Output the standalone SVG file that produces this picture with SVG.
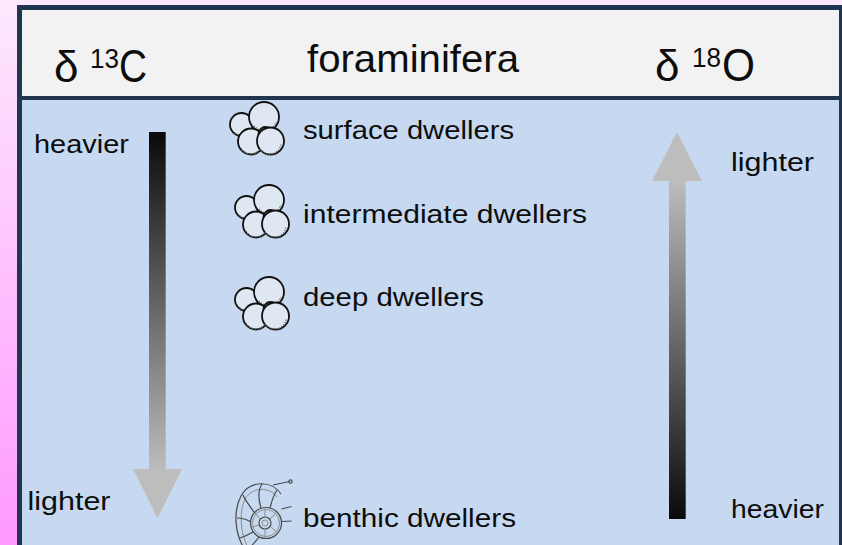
<svg xmlns="http://www.w3.org/2000/svg" xmlns:xlink="http://www.w3.org/1999/xlink" width="842" height="545" viewBox="0 0 842 545">
  <style>
    text { font-family: "Liberation Sans", Arial, sans-serif; fill: #0d0d0d; }
    .hdr { font-size: 39px; }
    .sym { font-size: 44px; }
    .sup { font-size: 27px; }
    .iso { font-size: 46px; }
    .lbl { font-size: 26.5px; }
    .frame { fill: #1f3550; }
    .shell { fill: #dfe7f2; stroke: #111; stroke-width: 1.8; }
    .shade { fill: none; stroke: #6e6e6e; stroke-width: 1.4; stroke-dasharray: 1.2 1.4; }
    .benth { fill: none; stroke: #4a4a4a; stroke-width: 1.2; }
    .benth2 { fill: none; stroke: #8d8d8d; stroke-width: 1; }
  </style>
  <defs>
    <linearGradient id="pinkBg" x1="0" y1="0" x2="0" y2="1">
      <stop offset="0" stop-color="#fde9fd"/>
      <stop offset="1" stop-color="#ff99ff"/>
    </linearGradient>
    <linearGradient id="downFade" gradientUnits="userSpaceOnUse" x1="0" y1="132" x2="0" y2="470">
      <stop offset="0" stop-color="#0a0a0a"/>
      <stop offset="1" stop-color="#bdbdbd"/>
    </linearGradient>
    <linearGradient id="upFade" gradientUnits="userSpaceOnUse" x1="0" y1="181" x2="0" y2="519">
      <stop offset="0" stop-color="#bdbdbd"/>
      <stop offset="1" stop-color="#0a0a0a"/>
    </linearGradient>
    <!-- trochospiral planktic test: cluster of globular chambers -->
    <g id="foram">
      <circle class="shell" cx="11.5" cy="22.5" r="11.5"/>
      <path class="shade" d="M5,31 A10,10 0 0 0 20,29"/>
      <circle class="shell" cx="34" cy="15" r="15"/>
      <path class="shade" d="M24,24 A13,13 0 0 0 46,20"/>
      <circle class="shell" cx="21" cy="39.5" r="13"/>
      <path class="shade" d="M11,46 A11,11 0 0 0 31,45"/>
      <circle class="shell" cx="35.5" cy="32" r="7"/>
      <circle class="shell" cx="40.5" cy="39" r="13.5"/>
      <path class="shade" d="M30,47 A11.5,11.5 0 0 0 51,42"/>
    </g>
  </defs>

  <!-- page background and frame -->
  <rect x="0" y="0" width="842" height="545" fill="url(#pinkBg)"/>
  <rect class="frame" x="17" y="5" width="825" height="540"/>
  <rect x="22" y="10" width="817" height="86" fill="#f2f2f2"/>
  <rect x="22" y="100" width="817" height="445" fill="#c6d9f1"/>

  <!-- column headings -->
  <g id="head-carbon">
    <text class="sym" x="54" y="82">δ</text>
    <text class="sup" x="90" y="68" textLength="29" lengthAdjust="spacingAndGlyphs">13</text>
    <text class="iso" x="119" y="82" textLength="28" lengthAdjust="spacingAndGlyphs">C</text>
  </g>
  <g id="head-foram">
    <text class="hdr" x="307" y="71.5" textLength="212" lengthAdjust="spacingAndGlyphs">foraminifera</text>
  </g>
  <g id="head-oxygen">
    <text class="sym" x="655" y="81">δ</text>
    <text class="sup" x="692" y="66.5" textLength="29" lengthAdjust="spacingAndGlyphs">18</text>
    <text class="iso" x="722" y="81" textLength="33" lengthAdjust="spacingAndGlyphs">O</text>
  </g>

  <!-- gradient arrows -->
  <g id="connectors">
    <path id="arrow-carbon" d="M149,132 H165.7 V469 H182 L157.5,518 L133,469 H149 Z" fill="url(#downFade)"/>
    <path id="arrow-oxygen" d="M677,132 L702,181 H685.7 V519 H669 V181 H652 Z" fill="url(#upFade)"/>
  </g>

  <!-- scale end labels -->
  <g id="carbon-heavy"><text class="lbl" x="34" y="153" textLength="95" lengthAdjust="spacingAndGlyphs">heavier</text></g>
  <g id="carbon-light"><text class="lbl" x="27.5" y="510" textLength="83" lengthAdjust="spacingAndGlyphs">lighter</text></g>
  <g id="oxygen-light"><text class="lbl" x="731" y="171" textLength="83" lengthAdjust="spacingAndGlyphs">lighter</text></g>
  <g id="oxygen-heavy"><text class="lbl" x="731" y="518" textLength="93" lengthAdjust="spacingAndGlyphs">heavier</text></g>

  <!-- habitat groups -->
  <g id="surface">
    <use xlink:href="#foram" href="#foram" transform="translate(230,102)"/>
    <text class="lbl" x="303" y="139" textLength="211" lengthAdjust="spacingAndGlyphs">surface dwellers</text>
  </g>
  <g id="intermediate">
    <use xlink:href="#foram" href="#foram" transform="translate(235,185)"/>
    <text class="lbl" x="303" y="222.5" textLength="284" lengthAdjust="spacingAndGlyphs">intermediate dwellers</text>
  </g>
  <g id="deep">
    <use xlink:href="#foram" href="#foram" transform="translate(235,277)"/>
    <text class="lbl" x="303" y="306" textLength="181" lengthAdjust="spacingAndGlyphs">deep dwellers</text>
  </g>
  <g id="benthic">
    <!-- planispiral benthic test -->
    <path class="benth" d="M281,494 C273,481 250,479 241,496 C233,511 235,534 244,548"/>
    <path class="benth2" d="M277,497 C270,487 253,486 245,499 C239,512 240,532 248,548"/>
    <circle class="benth" cx="266" cy="523" r="15.5"/>
    <circle class="benth2" cx="266" cy="523" r="13.5"/>
    <circle class="benth" cx="265" cy="523" r="6"/>
    <circle class="benth2" cx="265" cy="523" r="3"/>
    <path class="benth" d="M270,508 C272,500 274,494 277,490 M261,508 C258,498 258,490 262,484 M254,512 C249,505 245,500 243,495 M251,522 C246,519 241,518 237,518 M253,532 C248,535 243,537 240,538 M259,537 C256,541 252,545 250,548"/>
    <path class="benth2" d="M265,517 L265,509 M270,519 L276,513 M260,519 L255,513 M259,525 L252,527 M265,529 L265,538 M271,527 L278,533"/>
    <path class="benth" d="M273,485 L289.5,481.5 M281.5,509 L291.5,506.5 M281.5,521.5 L291.5,521"/>
    <circle class="benth" cx="290.5" cy="481.5" r="1.6" fill="#ddd"/>
    <text class="lbl" x="303" y="527" textLength="213" lengthAdjust="spacingAndGlyphs">benthic dwellers</text>
  </g>
</svg>
